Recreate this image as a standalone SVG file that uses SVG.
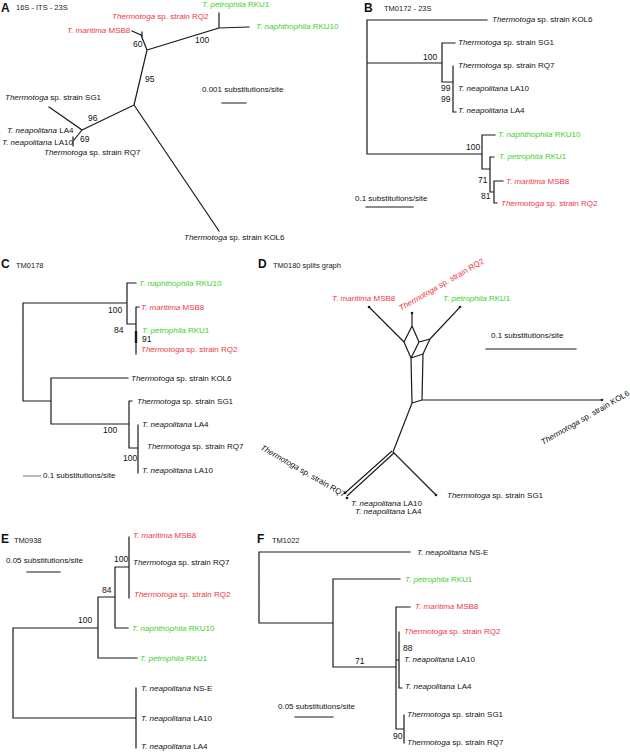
<svg xmlns="http://www.w3.org/2000/svg" width="630" height="753" viewBox="0 0 630 753">
<style>
text{font-family:"Liberation Sans",Arial,sans-serif;font-size:8px;fill:#111}
.i{font-style:italic}
.r{fill:#f0373f}
.g{fill:#3ccf2e}
.num{font-size:8.5px}
.pl{font-weight:bold;font-size:12px}
.tt{font-size:7.5px;fill:#222}
.e{fill:none;stroke:#1a1a1a;stroke-width:1.2;stroke-linecap:square}
.tip{fill:#1a1a1a}
</style>
<rect width="630" height="753" fill="#fff"/>

<!-- Panel A -->
<g id="panelA">
<text class="pl" x="1" y="12">A</text>
<text class="tt" x="16" y="10">16S - ITS - 23S</text>
<g id="A-edges">
<path class="e" d="M219,13V28M219,28L249,27M219,28L147,50M132,31L141,35L147,50M142,32V38M147,50L134,105M134,105L82,130M82,130L49,107M82,130L74,140M73,137V146M134,105L219,231M222,103H246"/>
</g>
<g id="A-petro"><text class="g" x="202" y="7"><tspan class="i">T. petrophila</tspan> RKU1</text></g>
<g id="A-naph"><text class="g" x="256" y="29"><tspan class="i">T. naphthophila</tspan> RKU10</text></g>
<g id="A-RQ2"><text class="r" x="112" y="19"><tspan class="i">Thermotoga</tspan> sp. strain RQ2</text></g>
<g id="A-MSB8"><text class="r" x="67" y="33"><tspan class="i">T. maritima</tspan> MSB8</text></g>
<g id="A-SG1"><text x="5" y="100"><tspan class="i">Thermotoga</tspan> sp. strain SG1</text></g>
<g id="A-LA4"><text x="7" y="133"><tspan class="i">T. neapolitana</tspan> LA4</text></g>
<g id="A-LA10"><text x="2" y="145"><tspan class="i">T. neapolitana</tspan> LA10</text></g>
<g id="A-RQ7"><text x="44" y="155"><tspan class="i">Thermotoga</tspan> sp. strain RQ7</text></g>
<g id="A-KOL6"><text x="184" y="240"><tspan class="i">Thermotoga</tspan> sp. strain KOL6</text></g>
<text class="num" x="195" y="43">100</text>
<text class="num" x="133" y="47">60</text>
<text class="num" x="145" y="82">95</text>
<text class="num" x="88" y="121">96</text>
<text class="num" x="80" y="142">69</text>
<text x="202" y="92">0.001 substitutions/site</text>
</g>

<!-- Panel B -->
<g id="panelB">
<text class="pl" x="364" y="12">B</text>
<text class="tt" x="384" y="11">TM0172 - 23S</text>
<g id="B-edges">
<path class="e" d="M367,20V154M367,20H487M367,63H442M442,43V82M442,43H455M442,82H453M453,66V112M453,112H456M367,154H482M482,135V169M482,135H495M482,169H490M490,157V192M490,157H494M490,192H494M494,181V203M494,181H503M494,203H497M366,207H413"/>
</g>
<g id="B-KOL6"><text x="492" y="22"><tspan class="i">Thermotoga</tspan> sp. strain KOL6</text></g>
<g id="B-SG1"><text x="458" y="45"><tspan class="i">Thermotoga</tspan> sp. strain SG1</text></g>
<g id="B-RQ7"><text x="458" y="68"><tspan class="i">Thermotoga</tspan> sp. strain RQ7</text></g>
<g id="B-LA10"><text x="458" y="91"><tspan class="i">T. neapolitana</tspan> LA10</text></g>
<g id="B-LA4"><text x="458" y="113"><tspan class="i">T. neapolitana</tspan> LA4</text></g>
<g id="B-naph"><text class="g" x="498" y="137"><tspan class="i">T. naphthophila</tspan> RKU10</text></g>
<g id="B-petro"><text class="g" x="499" y="159"><tspan class="i">T. petrophila</tspan> RKU1</text></g>
<g id="B-MSB8"><text class="r" x="506" y="184"><tspan class="i">T. maritima</tspan> MSB8</text></g>
<g id="B-RQ2"><text class="r" x="501" y="206"><tspan class="i">Thermotoga</tspan> sp. strain RQ2</text></g>
<text class="num" x="423" y="60">100</text>
<text class="num" x="441" y="91">99</text>
<text class="num" x="441" y="102">99</text>
<text class="num" x="466" y="150">100</text>
<text class="num" x="478" y="183">71</text>
<text class="num" x="481" y="199">81</text>
<text x="355" y="201">0.1 substitutions/site</text>
</g>

<!-- Panel C -->
<g id="panelC">
<text class="pl" x="1" y="268">C</text>
<text class="tt" x="16" y="268">TM0178</text>
<g id="C-edges">
<path class="e" d="M23,303V401M23,303H127M127,283V324M127,283H136M127,324H136M136,307V354M136,307H139M23,401H51M51,378V424M51,378H128M51,424H129M129,401V448M129,401H132M129,448H138M138,425V473"/>
<path d="M136,331V343" stroke="#1a1a1a" stroke-width="2.4"/>
<path d="M23,476H41" stroke="#888" stroke-width="1.2"/>
</g>
<g id="C-naph"><text class="g" x="139" y="286"><tspan class="i">T. naphthophila</tspan> RKU10</text></g>
<g id="C-MSB8"><text class="r" x="141" y="310"><tspan class="i">T. maritima</tspan> MSB8</text></g>
<g id="C-petro"><text class="g" x="142" y="333"><tspan class="i">T. petrophila</tspan> RKU1</text></g>
<g id="C-RQ2"><text class="r" x="141" y="352"><tspan class="i">Thermotoga</tspan> sp. strain RQ2</text></g>
<g id="C-KOL6"><text x="131" y="381"><tspan class="i">Thermotoga</tspan> sp. strain KOL6</text></g>
<g id="C-SG1"><text x="137" y="404"><tspan class="i">Thermotoga</tspan> sp. strain SG1</text></g>
<g id="C-LA4"><text x="142" y="427"><tspan class="i">T. neapolitana</tspan> LA4</text></g>
<g id="C-RQ7"><text x="147" y="449"><tspan class="i">Thermotoga</tspan> sp. strain RQ7</text></g>
<g id="C-LA10"><text x="142" y="473"><tspan class="i">T. neapolitana</tspan> LA10</text></g>
<text class="num" x="108" y="313">100</text>
<text class="num" x="114" y="333">84</text>
<text class="num" x="142" y="342">91</text>
<text class="num" x="103" y="433">100</text>
<text class="num" x="123" y="461">100</text>
<text x="43" y="478">0.1 substitutions/site</text>
</g>

<!-- Panel D -->
<g id="panelD">
<text class="pl" x="258" y="268">D</text>
<text class="tt" x="273" y="268">TM0180 splits graph</text>
<g id="D-edges">
<path class="e" stroke-linejoin="round" d="M369,307L404,342M412,313V326M460,307L430,339M412,326L404,342L411,358L419,342ZM419,342L430,339L423,354L411,358M411,358L412,403L422,400L423,354M422,400H602M412,403L393,452M393,452L436,495M486,349H576"/>
<path d="M392,451L345,493M394,453L347,496" fill="none" stroke="#1a1a1a" stroke-width="1.1"/>
<circle class="tip" cx="369" cy="307" r="1.3"/>
<circle class="tip" cx="412" cy="313" r="1.3"/>
<circle class="tip" cx="460" cy="307" r="1.3"/>
<circle class="tip" cx="602" cy="400" r="1.3"/>
<circle class="tip" cx="436" cy="495" r="1.3"/>
<circle class="tip" cx="345" cy="493" r="1.3"/>
<circle class="tip" cx="347" cy="498" r="1.3"/>
</g>
<g id="D-MSB8"><text class="r" x="332" y="301"><tspan class="i">T. maritima</tspan> MSB8</text></g>
<g id="D-petro"><text class="g" x="443" y="301"><tspan class="i">T. petrophila</tspan> RKU1</text></g>
<g id="D-RQ2"><text class="r" transform="translate(401,311) rotate(-30)"><tspan class="i">Thermotoga</tspan> sp. strain RQ2</text></g>
<g id="D-KOL6"><text transform="translate(543,445) rotate(-30)"><tspan class="i">Thermotoga</tspan> sp. strain KOL6</text></g>
<g id="D-RQ7"><text transform="translate(260,449) rotate(30)"><tspan class="i">Thermotoga</tspan> sp. strain RQ7</text></g>
<g id="D-SG1"><text x="447" y="498"><tspan class="i">Thermotoga</tspan> sp. strain SG1</text></g>
<g id="D-LA10"><text x="351" y="506"><tspan class="i">T. neapolitana</tspan> LA10</text></g>
<g id="D-LA4"><text x="355" y="514"><tspan class="i">T. neapolitana</tspan> LA4</text></g>
<text x="491" y="338">0.1 substitutions/site</text>
</g>

<!-- Panel E -->
<g id="panelE">
<text class="pl" x="1" y="543">E</text>
<text class="tt" x="14" y="543">TM0938</text>
<g id="E-edges">
<path class="e" d="M13,628V718M13,628H98M98,597V658M98,597H115M98,658H137M115,567V628M115,567H129M115,628H128M129,537V598M13,718H136M136,688V748M27,572H60"/>
</g>
<g id="E-MSB8"><text class="r" x="133" y="538"><tspan class="i">T. maritima</tspan> MSB8</text></g>
<g id="E-RQ7"><text x="133" y="565"><tspan class="i">Thermotoga</tspan> sp. strain RQ7</text></g>
<g id="E-RQ2"><text class="r" x="134" y="597"><tspan class="i">Thermotoga</tspan> sp. strain RQ2</text></g>
<g id="E-naph"><text class="g" x="132" y="631"><tspan class="i">T. naphthophila</tspan> RKU10</text></g>
<g id="E-petro"><text class="g" x="140" y="661"><tspan class="i">T. petrophila</tspan> RKU1</text></g>
<g id="E-NSE"><text x="141" y="691"><tspan class="i">T. neapolitana</tspan> NS-E</text></g>
<g id="E-LA10"><text x="141" y="721"><tspan class="i">T. neapolitana</tspan> LA10</text></g>
<g id="E-LA4"><text x="141" y="749"><tspan class="i">T. neapolitana</tspan> LA4</text></g>
<text class="num" x="114" y="562">100</text>
<text class="num" x="102" y="593">84</text>
<text class="num" x="78" y="623">100</text>
<text x="6" y="563">0.05 substitutions/site</text>
</g>

<!-- Panel F -->
<g id="panelF">
<text class="pl" x="257" y="543">F</text>
<text class="tt" x="272" y="543">TM1022</text>
<g id="F-edges">
<path class="e" d="M259,552V623M259,552H410M259,623H333M333,579V667M333,579H400M333,667H396M396,607V729M396,607H410M396,660H399M399,632V688M399,688H402M396,729H404M404,715V743M295,717H333"/>
</g>
<g id="F-NSE"><text x="417" y="555"><tspan class="i">T. neapolitana</tspan> NS-E</text></g>
<g id="F-petro"><text class="g" x="405" y="582"><tspan class="i">T. petrophila</tspan> RKU1</text></g>
<g id="F-MSB8"><text class="r" x="415" y="609"><tspan class="i">T. maritima</tspan> MSB8</text></g>
<g id="F-RQ2"><text class="r" x="404" y="634"><tspan class="i">Thermotoga</tspan> sp. strain RQ2</text></g>
<g id="F-LA10"><text x="404" y="662"><tspan class="i">T. neapolitana</tspan> LA10</text></g>
<g id="F-LA4"><text x="405" y="689"><tspan class="i">T. neapolitana</tspan> LA4</text></g>
<g id="F-SG1"><text x="407" y="717"><tspan class="i">Thermotoga</tspan> sp. strain SG1</text></g>
<g id="F-RQ7"><text x="407" y="745"><tspan class="i">Thermotoga</tspan> sp. strain RQ7</text></g>
<text class="num" x="355" y="664">71</text>
<text class="num" x="403" y="651">88</text>
<text class="num" x="393" y="739">90</text>
<text x="278" y="709">0.05 substitutions/site</text>
</g>
</svg>
